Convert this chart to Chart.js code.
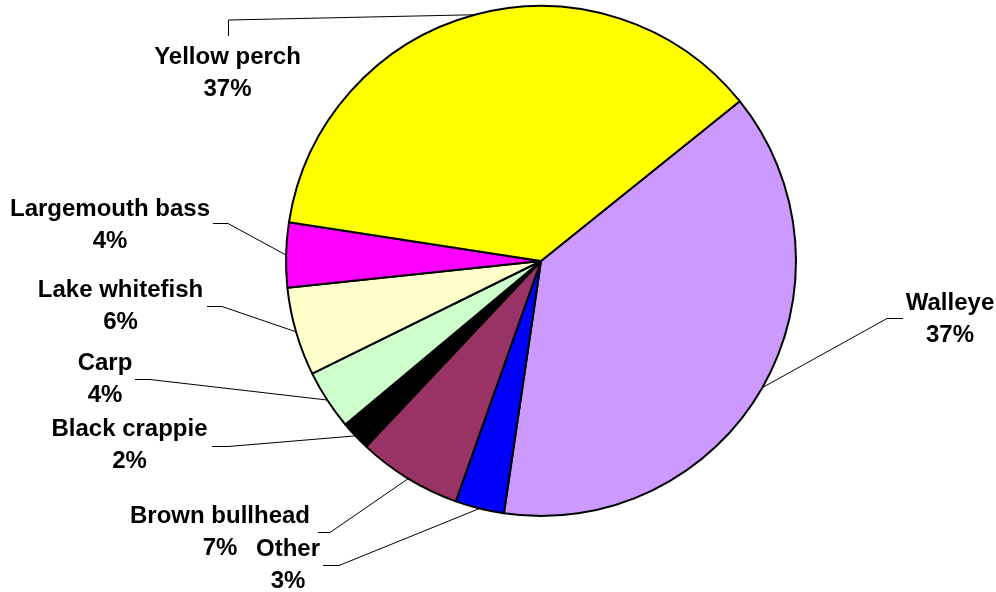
<!DOCTYPE html>
<html>
<head>
<meta charset="utf-8">
<script src="https://cdn.jsdelivr.net/npm/chart.js@4"></script>
<style>
  body { margin: 0; background: #fff; }
  canvas { display: block; }
</style>
</head>
<body>
<canvas id="fishChart" width="996" height="592"></canvas>
<script>
// species, in drawing order (clockwise, starting with Walleye)
var species = ['Walleye', 'Other', 'Brown bullhead', 'Black crappie', 'Carp', 'Lake whitefish', 'Largemouth bass', 'Yellow perch'];
// share of each slice
var shares = [38.1, 3.1, 6.6, 1.9, 3.8, 5.6, 4.1, 36.8];
// percent text as printed on the labels
var pctLabels = ['37%', '3%', '7%', '2%', '4%', '6%', '4%', '37%'];
var sliceColors = ['#CC99FF', '#0000FF', '#993366', '#000000', '#CCFFCC', '#FFFFCC', '#FF00FF', '#FFFF00'];

// label layout: text centre x, first baseline y, then leader start and elbow points
var labelLayout = [
    { x: 950, y: 310, from: [903, 318.5], elbow: [887, 318.5] },
    { x: 288, y: 556, from: [323, 565.5], elbow: [339, 565.5] },
    { x: 220, y: 523, from: [318, 532.5], elbow: [330, 532.5] },
    { x: 129.5, y: 436, from: [212, 446.5], elbow: [228, 446.5] },
    { x: 105, y: 370, from: [135, 379.5], elbow: [150, 379.5] },
    { x: 120.5, y: 297, from: [207, 306.5], elbow: [222, 306.5] },
    { x: 110, y: 216, from: [213, 223.5], elbow: [228, 223.5] },
    { x: 227.5, y: 64, from: [228.5, 36], elbow: [228.5, 20] }
];

var pieLabels = {
    id: 'pieLabels',
    afterDatasetsDraw: function (chart) {
        var ctx = chart.ctx;
        var arcs = chart.getDatasetMeta(0).data;
        ctx.save();
        arcs.forEach(function (arc, i) {
            var p = arc.getProps(['x', 'y', 'startAngle', 'endAngle', 'outerRadius'], true);
            var mid = (p.startAngle + p.endAngle) / 2;
            var ex = p.x + Math.cos(mid) * p.outerRadius;
            var ey = p.y + Math.sin(mid) * p.outerRadius;
            var lay = labelLayout[i];

            // leader line
            ctx.strokeStyle = '#000';
            ctx.lineWidth = 1;
            ctx.beginPath();
            ctx.moveTo(lay.from[0], lay.from[1]);
            ctx.lineTo(lay.elbow[0], lay.elbow[1]);
            ctx.lineTo(ex, ey);
            ctx.stroke();

            // two-line label
            ctx.fillStyle = '#000';
            ctx.font = 'bold 24px "Liberation Sans", Arial, sans-serif';
            ctx.textAlign = 'center';
            ctx.textBaseline = 'alphabetic';
            ctx.fillText(species[i], lay.x, lay.y);
            ctx.fillText(pctLabels[i], lay.x, lay.y + 32);
        });
        ctx.restore();
    }
};

new Chart(document.getElementById('fishChart'), {
    type: 'pie',
    data: {
        labels: species,
        datasets: [{
            data: shares,
            backgroundColor: sliceColors,
            borderColor: '#000',
            borderWidth: 2
        }]
    },
    options: {
        responsive: false,
        animation: false,
        events: [],
        rotation: 51.2,
        layout: {
            padding: { top: 5, bottom: 75, left: 285, right: 199 }
        },
        plugins: {
            legend: { display: false },
            tooltip: { enabled: false }
        }
    },
    plugins: [pieLabels]
});
</script>
</body>
</html>
